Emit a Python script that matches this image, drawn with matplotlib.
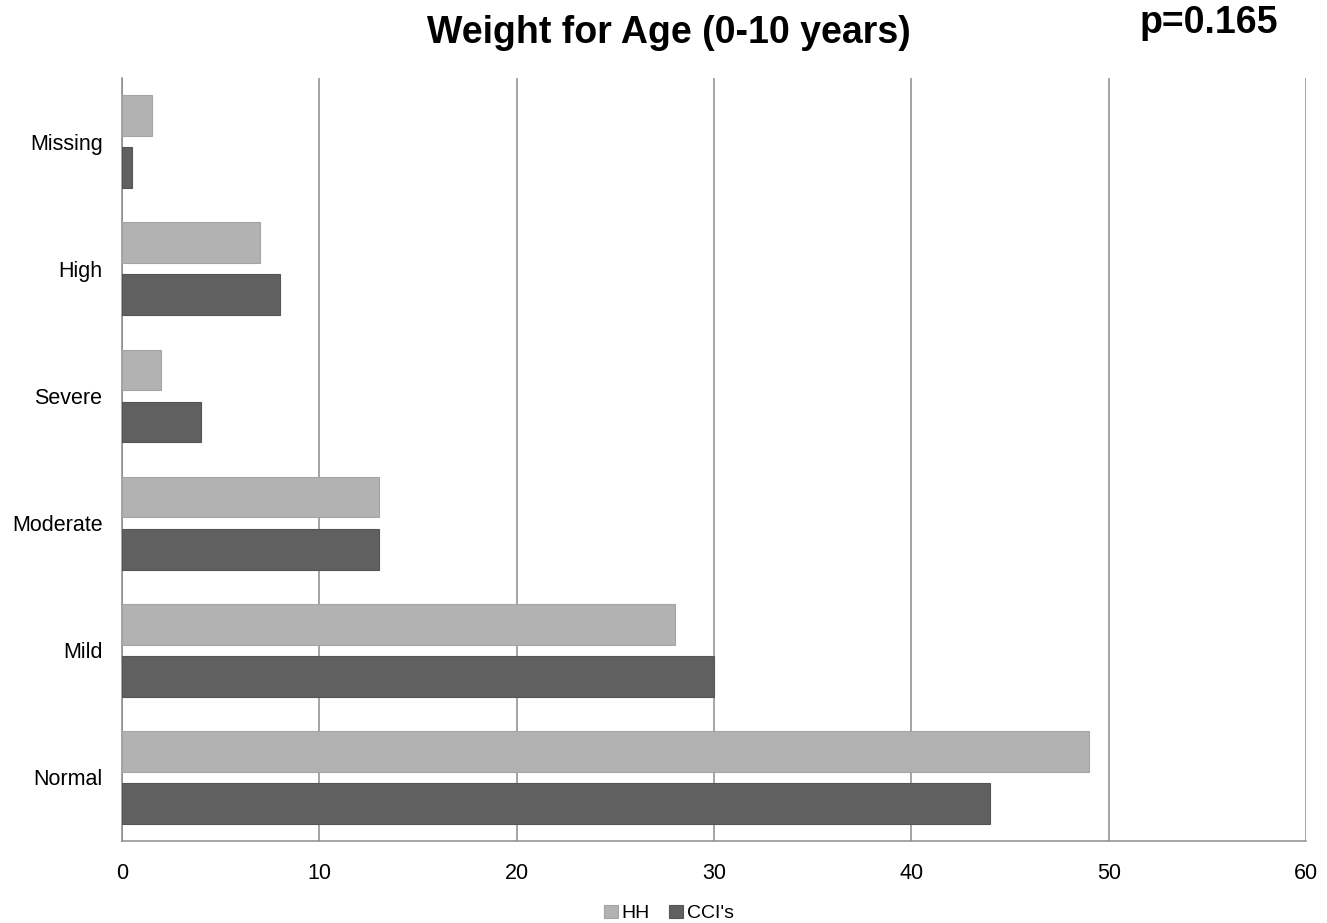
import matplotlib.pyplot as plt
import numpy as np

plt.rcParams['font.family'] = ['Liberation Sans', 'DejaVu Sans']

categories = ['Missing', 'High', 'Severe', 'Moderate', 'Mild', 'Normal']
hh = [1.5, 7, 2, 13, 28, 49]
cci = [0.5, 8, 4, 13, 30, 44]
xticks = [0, 10, 20, 30, 40, 50, 60]

fig = plt.figure(figsize=(13.27, 9.23), dpi=100)
ax = fig.add_axes([0.0919, 0.0888, 0.8923, 0.8267])

y = np.arange(len(categories))
h = 0.32
ax.barh(y - 0.205, hh, height=h, color='#b2b2b2', edgecolor='#a4a4a4',
        linewidth=0.8, label='HH', zorder=3)
ax.barh(y + 0.205, cci, height=h, color='#606060', edgecolor='#555555',
        linewidth=0.8, label="CCI's", zorder=3)

ax.set_ylim(len(categories) - 0.5, -0.5)
ax.set_xlim(0, 60)
ax.set_xticks(xticks)
ax.set_xticklabels([str(t) for t in xticks], fontsize=15.5)
ax.set_yticks(y)
ax.set_yticklabels(categories, fontsize=15.5)
ax.tick_params(length=0)
ax.tick_params(axis='y', pad=14)
ax.tick_params(axis='x', pad=16)

ax.grid(axis='x', color='#8c8c8c', linewidth=1.1, zorder=0)
for s in ['top', 'right']:
    ax.spines[s].set_visible(False)
for s in ['left', 'bottom']:
    ax.spines[s].set_color('#8c8c8c')
    ax.spines[s].set_linewidth(1.1)

fig.text(0.504, 0.953, 'Weight for Age (0-10 years)', ha='center', va='baseline',
         fontsize=27, fontweight='bold')
fig.text(0.859, 0.964, 'p=0.165', ha='left', va='baseline',
         fontsize=27, fontweight='bold')

fig.legend(loc='lower center', bbox_to_anchor=(0.504, -0.018), ncol=2,
           frameon=False, fontsize=14, handlelength=0.7, handleheight=0.7,
           handletextpad=0.2, columnspacing=1.0)

fig.savefig('out.png', dpi=100)
